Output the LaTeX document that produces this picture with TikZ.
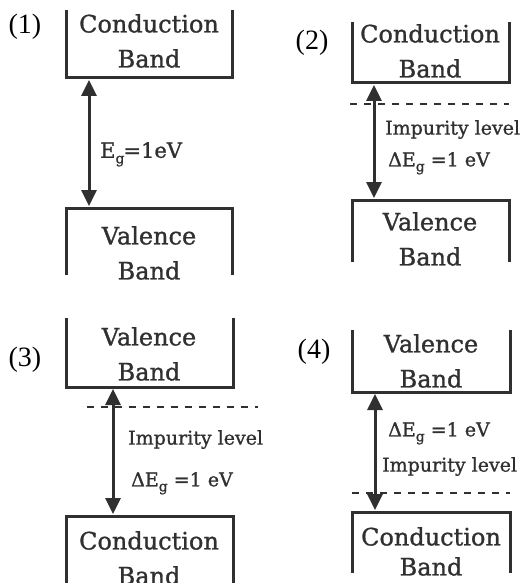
\documentclass[tikz,border=0pt]{standalone}
\usepackage{fontspec}
\setmainfont[FakeBold=1.1]{DejaVu Serif}
\newfontfamily\tagfont{Liberation Serif}
\usepackage{tikz}
\usetikzlibrary{arrows.meta, positioning}
\definecolor{ink}{HTML}{303030}
\newcommand{\lowg}{\raisebox{-0.5ex}{\fontsize{14}{14}\selectfont g}}
\tikzset{
    band/.style={draw=ink, line width=3pt},
    bandText/.style={align=center, anchor=north, inner sep=0pt, text=ink, font=\fontsize{24}{35}\selectfont},
    gapArrow/.style={{Triangle[length=16pt, width=15pt]}-{Triangle[length=16pt, width=15pt]}, draw=ink, line width=3pt},
    impLevel/.style={draw=ink, line width=2.8pt, dash pattern=on 7pt off 7pt},
    note/.style={anchor=north west, inner sep=0pt, text=ink, font=\fontsize{19}{19}\selectfont},
    tag/.style={inner sep=0pt, font=\tagfont\fontsize{28}{28}\selectfont}
}
\begin{document}
\begin{tikzpicture}[x=1pt, y=-1pt]
        \useasboundingbox (0,0) rectangle (524,583);

        % Panel 1
        \node[tag] (T1) at (25,27) {(1)};
        \draw[band] (66,10) -- (66,78) -- (232,78) -- (232,10);
        \node[bandText] (CB1) at (149,14) {Conduction\\Band};
        \draw[band] (66,275) -- (66,208) -- (232,208) -- (232,275);
        \node[bandText] (VB1) at (149,226) {Valence\\Band};
        \coordinate (top1) at (89,80);
        \coordinate (bot1) at (89,206);
        \draw[gapArrow] (top1) -- (bot1);
        \node[note, font=\fontsize{21}{21}\selectfont] (Eg1) at (100,142) {E\lowg\kern-1pt=1eV};

        % Panel 2
        \node[tag] (T2) at (312,43) {(2)};
        \draw[band] (352,22) -- (352,83) -- (509,83) -- (509,22);
        \node[bandText] (CB2) at (430,24) {Conduction\\Band};
        \draw[band] (352,262) -- (352,200) -- (509,200) -- (509,262);
        \node[bandText] (VB2) at (430,212) {Valence\\Band};
        \coordinate (dl2) at (350,104);
        \coordinate (dr2) at (509,104);
        \draw[impLevel] (dl2) -- (dr2);
        \coordinate (top2) at (374,85);
        \coordinate (bot2) at (374,198);
        \draw[gapArrow] (top2) -- (bot2);
        \node[note] (Imp2) at (385,120) {Impurity level};
        \node[note] (dE2) at (388,152) {ΔE\lowg\ =1 eV};

        % Panel 3
        \node[tag] (T3) at (25,360) {(3)};
        \draw[band] (66,318) -- (66,387) -- (233,387) -- (233,318);
        \node[bandText] (VB3) at (149,327) {Valence\\Band};
        \draw[band] (66,590) -- (66,516) -- (233,516) -- (233,590);
        \node[bandText] (CB3) at (149,531) {Conduction\\Band};
        \coordinate (dl3) at (87,407);
        \coordinate (dr3) at (258,407);
        \draw[impLevel] (dl3) -- (dr3);
        \coordinate (top3) at (113,389);
        \coordinate (bot3) at (113,514);
        \draw[gapArrow] (top3) -- (bot3);
        \node[note] (Imp3) at (128,430) {Impurity level};
        \node[note] (dE3) at (131,472) {ΔE\lowg\ =1 eV};

        % Panel 4
        \node[tag] (T4) at (314,352) {(4)};
        \draw[band] (352,330) -- (352,392) -- (510,392) -- (510,330);
        \node[bandText] (VB4) at (431,334) {Valence\\Band};
        \draw[band] (352,573) -- (352,512) -- (510,512) -- (510,573);
        \node[bandText] (CB4) at (431,527) {Conduction\\[-5pt]Band};
        \coordinate (dl4) at (352,493);
        \coordinate (dr4) at (510,493);
        \draw[impLevel] (dl4) -- (dr4);
        \coordinate (top4) at (375,394);
        \coordinate (bot4) at (375,510);
        \draw[gapArrow] (top4) -- (bot4);
        \node[note] (dE4) at (388,422) {ΔE\lowg\ =1 eV};
        \node[note] (Imp4) at (382,457) {Impurity level};
    \end{tikzpicture}
\end{document}
